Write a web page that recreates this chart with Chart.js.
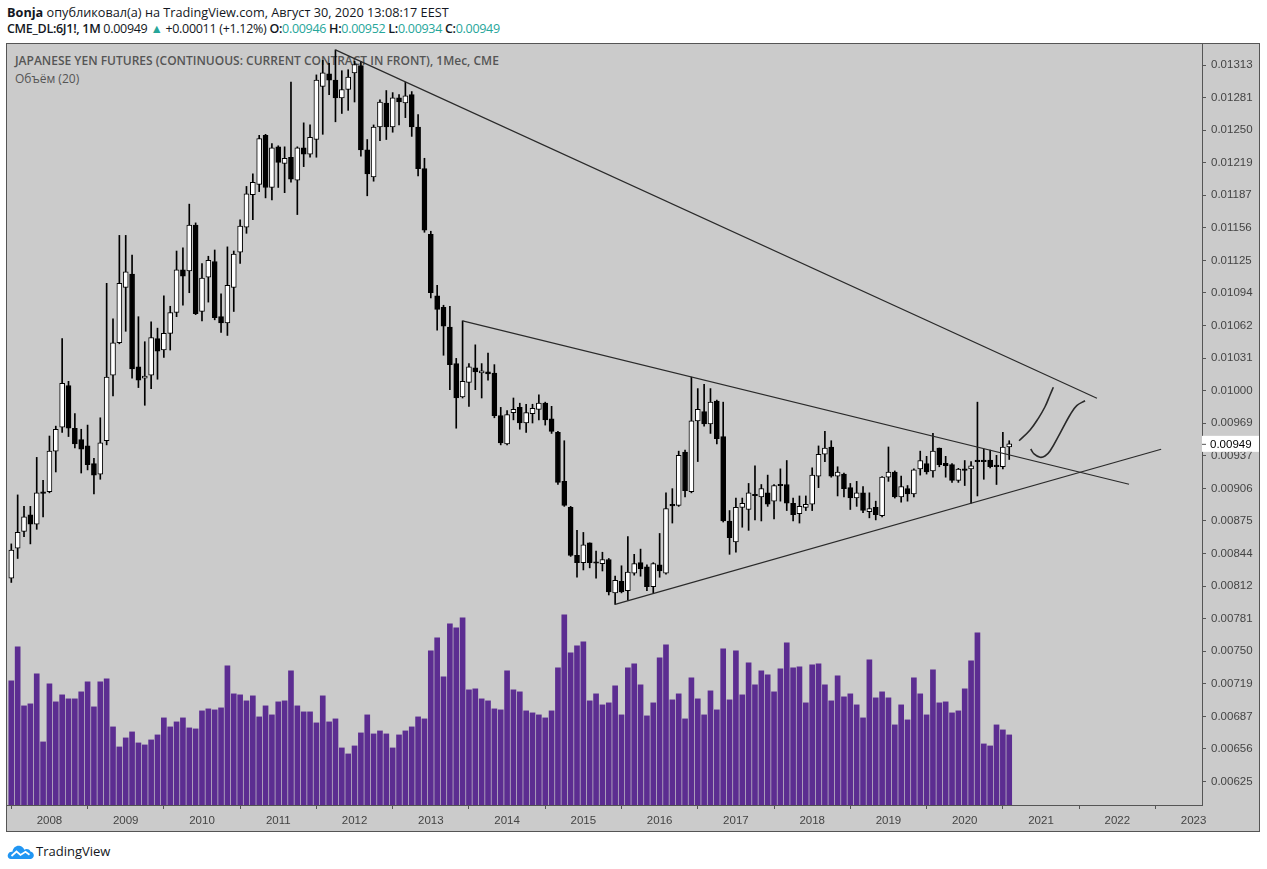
<!DOCTYPE html>
<html>
<head>
<meta charset="utf-8">
<script src="https://cdn.jsdelivr.net/npm/chart.js@4.4.0/dist/chart.umd.min.js"></script>
<style>
  body { margin: 0; width: 1267px; height: 869px; overflow: hidden; background: #fff; font-family: "Open Sans", "Noto Sans", sans-serif; color: #131722; }
  .head { position: absolute; left: 7px; white-space: nowrap; }
  #h1 { top: 3px; font-size: 12.7px; }
  #h2 { top: 20px; font-size: 12.5px; letter-spacing: -0.3px; }
  .b { font-weight: 700; }
  .s { font-weight: 600; }
  .t { color: #26a69a; }
  #box { position: absolute; left: 6px; top: 43px; width: 1254px; height: 789px; box-sizing: border-box; border: 1px solid #555; background: #cbcbcb; }
  #title { position: absolute; left: 8px; top: 8px; font-size: 12px; font-weight: 600; color: #555; white-space: nowrap; }
  #vtitle { position: absolute; left: 8px; top: 26px; font-size: 12px; color: #555; }
  #wrap { position: absolute; left: 0; top: 0; width: 1252px; height: 787px; }
  #logo { position: absolute; left: 7px; top: 842px; font-size: 13px; display: flex; align-items: center; gap: 2px; }
</style>
</head>
<body>
<div class="head" id="h1"><span class="b">Bonja</span> опубликовал(а) на TradingView.com, Август 30, 2020 13:08:17 EEST</div>
<div class="head" id="h2"><span class="s">CME_DL:6J1!, 1M</span> 0.00949 <span class="t">▲</span> +0.00011 (+1.12%) <span class="s">O:</span><span class="t">0.00946</span> <span class="s">H:</span><span class="t">0.00952</span> <span class="s">L:</span><span class="t">0.00934</span> <span class="s">C:</span><span class="t">0.00949</span></div>
<div id="box">
  <div id="title">JAPANESE YEN FUTURES (CONTINUOUS: CURRENT CONTRACT IN FRONT), 1Мес, CME</div>
  <div id="vtitle">Объём (20)</div>
  <div id="wrap"><canvas id="grafico"></canvas></div>
</div>
<div id="logo">
  <svg width="27" height="17" viewBox="0 0 27 17"><path d="M4 16 C1 16 0 13 1.2 11 C2 9 3.8 8.4 5.4 8.8 C6 4.6 9 2.4 12.4 2.8 C15 3.2 16.6 4.8 17.2 6.8 C19.2 5.4 22.4 5.8 23.4 8.4 C25.8 8.6 27.4 11.2 26.6 13.6 C26.1 15.2 24.8 16 23.6 16 Z" fill="#2196f3"/><polyline points="4.5,13 9.5,8.5 13.5,12 18.5,8.8 22.5,11.8" fill="none" stroke="#fff" stroke-width="1.7"/></svg>
  <span>TradingView</span>
</div>
<script>
// primera vela: julio 2007, velas mensuales
const startYear = 2007;
const startMonth = 7;

const opens = [
  0.00820, 0.00849, 0.00865, 0.00881, 0.00872, 0.00903, 0.00903, 0.00942, 0.00965, 0.01005,
  0.00964, 0.00953, 0.00947, 0.00930, 0.00920, 0.00952, 0.01015, 0.01046, 0.01099, 0.01112,
  0.01023, 0.01012, 0.01015, 0.01050, 0.01039, 0.01055, 0.01075, 0.01116, 0.01115, 0.01159,
  0.01076, 0.01109, 0.01124, 0.01071, 0.01065, 0.01099, 0.01133, 0.01157, 0.01188, 0.01198,
  0.01245, 0.01195, 0.01234, 0.01218, 0.01224, 0.01202, 0.01233, 0.01227, 0.01241, 0.01292,
  0.01304, 0.01298, 0.01281, 0.01289, 0.01305, 0.01312, 0.01231, 0.01205, 0.01253, 0.01276,
  0.01253, 0.01281, 0.01276, 0.01284, 0.01253, 0.01213, 0.01150, 0.01091, 0.01080, 0.01061,
  0.01026, 0.00994, 0.01008, 0.01022, 0.01017, 0.01018, 0.01017, 0.00976, 0.00949, 0.00979,
  0.00984, 0.00969, 0.00978, 0.00982, 0.00988, 0.00973, 0.00960, 0.00913, 0.00888, 0.00842,
  0.00835, 0.00854, 0.008353, 0.00834, 0.00838, 0.00806, 0.00817, 0.00808, 0.00825, 0.00835,
  0.00831, 0.00812, 0.00833, 0.00825, 0.008905, 0.00890, 0.00941, 0.00903, 0.00971, 0.00980,
  0.00968, 0.00990, 0.00956, 0.00875, 0.00855, 0.00888, 0.00886, 0.009006, 0.00898, 0.00902,
  0.00894, 0.009102, 0.00910, 0.00892, 0.00882, 0.00888, 0.00891, 0.00918, 0.00939, 0.00946,
  0.00918, 0.00920, 0.00907, 0.00897, 0.00902, 0.00884, 0.00888, 0.00880, 0.00917, 0.00922,
  0.00898, 0.00906, 0.00901, 0.00925, 0.00930, 0.00923, 0.00945, 0.009303, 0.00929, 0.00914,
  0.009246, 0.00925, 0.009335, 0.009335, 0.009335, 0.009287, 0.00927, 0.00946
];
const highs = [
  0.00853, 0.00900, 0.00889, 0.00889, 0.00936, 0.00914, 0.009565, 0.00966, 0.01050, 0.01009,
  0.00978, 0.00963, 0.00967, 0.00935, 0.00974, 0.01103, 0.01069, 0.01149, 0.01149, 0.01130,
  0.01071, 0.01047, 0.01066, 0.01060, 0.01091, 0.01081, 0.01134, 0.01137, 0.01179, 0.01161,
  0.01122, 0.01129, 0.01135, 0.01093, 0.01138, 0.01134, 0.01164, 0.01196, 0.01208, 0.01245,
  0.01246, 0.01237, 0.01235, 0.01234, 0.01296, 0.01234, 0.01257, 0.01255, 0.01303, 0.01317,
  0.01314, 0.01327, 0.01307, 0.01308, 0.01316, 0.01316, 0.01241, 0.01255, 0.01279, 0.01288,
  0.01286, 0.01284, 0.01296, 0.01287, 0.01265, 0.01223, 0.01153, 0.01101, 0.01082, 0.01081,
  0.01031, 0.01067, 0.01026, 0.01044, 0.01026, 0.01036, 0.01025, 0.00984, 0.00981, 0.00993,
  0.00988, 0.00987, 0.00987, 0.00996, 0.00989, 0.00985, 0.00961, 0.00952, 0.00889, 0.00866,
  0.00864, 0.00854, 0.00846, 0.00845, 0.00839, 0.00822, 0.00832, 0.00860, 0.00843, 0.00848,
  0.00833, 0.00835, 0.00863, 0.00902, 0.00906, 0.00942, 0.00943, 0.01013, 0.01002, 0.01006,
  0.01002, 0.00991, 0.00989, 0.00885, 0.00897, 0.00897, 0.00911, 0.00928, 0.00910, 0.00919,
  0.00910, 0.00925, 0.00933, 0.00897, 0.00899, 0.00899, 0.00926, 0.00947, 0.00961, 0.00952,
  0.00927, 0.00921, 0.00911, 0.00913, 0.00908, 0.00902, 0.00894, 0.009176, 0.00946, 0.00923,
  0.00918, 0.00909, 0.00925, 0.00942, 0.00937, 0.00959, 0.00945, 0.00937, 0.00930, 0.009255,
  0.00933, 0.00932, 0.00989, 0.00944, 0.00943, 0.00938, 0.00960, 0.00952
];
const lows = [
  0.00816, 0.00839, 0.00860, 0.00853, 0.00867, 0.00879, 0.00902, 0.00922, 0.00960, 0.00956,
  0.00945, 0.00921, 0.00924, 0.00901, 0.00915, 0.00948, 0.00995, 0.01045, 0.01057, 0.01012,
  0.01003, 0.00986, 0.01002, 0.01011, 0.01032, 0.01039, 0.01071, 0.01082, 0.01094, 0.01073,
  0.01067, 0.01085, 0.01068, 0.01056, 0.01053, 0.01076, 0.01122, 0.01151, 0.01164, 0.01191,
  0.01185, 0.01183, 0.01195, 0.01190, 0.01200, 0.01169, 0.01215, 0.01224, 0.01224, 0.01246,
  0.01284, 0.01258, 0.01266, 0.01269, 0.01277, 0.01225, 0.01187, 0.01201, 0.01240, 0.01241,
  0.01248, 0.01255, 0.01262, 0.01244, 0.01206, 0.01152, 0.01089, 0.01058, 0.01034, 0.01001,
  0.00964, 0.00993, 0.00985, 0.01001, 0.00993, 0.01010, 0.00974, 0.00948, 0.00948, 0.00972,
  0.00963, 0.00960, 0.00969, 0.00972, 0.00967, 0.00959, 0.00910, 0.00889, 0.00841, 0.00821,
  0.00828, 0.00830, 0.00820, 0.00827, 0.00804, 0.00795, 0.00806, 0.00799, 0.00823, 0.00822,
  0.00808, 0.00806, 0.00821, 0.00824, 0.00873, 0.00889, 0.00898, 0.00902, 0.00932, 0.00966,
  0.00959, 0.00949, 0.00874, 0.00843, 0.00845, 0.00869, 0.00866, 0.00876, 0.00875, 0.00889,
  0.00877, 0.00894, 0.00885, 0.00875, 0.00873, 0.00885, 0.00885, 0.00907, 0.00932, 0.00917,
  0.00899, 0.00898, 0.00886, 0.00889, 0.00883, 0.00878, 0.00876, 0.00879, 0.00913, 0.00897,
  0.00893, 0.00894, 0.00898, 0.00919, 0.00920, 0.00917, 0.00927, 0.00917, 0.00912, 0.00912,
  0.00909, 0.00892, 0.00899, 0.00915, 0.00926, 0.00910, 0.00925, 0.00934
];
const closes = [
  0.00847, 0.00864, 0.00879, 0.00872, 0.00902, 0.009015, 0.00942, 0.00963, 0.01007, 0.00964,
  0.00949, 0.00944, 0.00929, 0.00919, 0.00950, 0.01013, 0.01046, 0.01103, 0.01114, 0.01021,
  0.01010, 0.01014, 0.01051, 0.01038, 0.01055, 0.01075, 0.01116, 0.01110, 0.01159, 0.01074,
  0.01108, 0.01125, 0.01070, 0.01065, 0.01101, 0.01131, 0.01158, 0.01189, 0.01200, 0.01242,
  0.01195, 0.01233, 0.01219, 0.01223, 0.01203, 0.01233, 0.01227, 0.01243, 0.01298, 0.01305,
  0.01298, 0.01281, 0.01289, 0.01301, 0.01313, 0.01231, 0.01208, 0.01253, 0.01277, 0.01253,
  0.01281, 0.01277, 0.01283, 0.01253, 0.01213, 0.01154, 0.01094, 0.01078, 0.01062, 0.01025,
  0.00993, 0.01009, 0.01023, 0.01018, 0.01019, 0.01016, 0.00976, 0.00950, 0.00977, 0.00982,
  0.00969, 0.00979, 0.00983, 0.00988, 0.00972, 0.00961, 0.00912, 0.00890, 0.00842, 0.00835,
  0.00852, 0.00835, 0.008344, 0.00838, 0.00807, 0.00818, 0.00807, 0.00826, 0.00834, 0.00829,
  0.00812, 0.00834, 0.00827, 0.00887, 0.008895, 0.00938, 0.00904, 0.00971, 0.00982, 0.00968,
  0.00989, 0.00954, 0.00875, 0.00859, 0.00888, 0.00892, 0.00902, 0.008992, 0.00906, 0.00891,
  0.00909, 0.009088, 0.00892, 0.00881, 0.00889, 0.00891, 0.00919, 0.00939, 0.00945, 0.00918,
  0.00922, 0.00906, 0.00897, 0.00902, 0.00885, 0.00887, 0.00881, 0.00917, 0.00922, 0.00898,
  0.00908, 0.00901, 0.00924, 0.00933, 0.00922, 0.00942, 0.00929, 0.009281, 0.00914, 0.009249,
  0.009236, 0.00928, 0.009319, 0.009319, 0.00927, 0.009271, 0.00946, 0.00949
];
// volumen relativo (escala propia)
const volumes = [
  372, 474, 297, 303, 393, 189, 363, 309, 330, 318, 318, 339, 369, 294, 369, 378, 234, 174, 201, 219,
  186, 180, 195, 210, 261, 234, 249, 261, 231, 228, 282, 288, 285, 291, 417, 333, 330, 312, 327, 264,
  297, 270, 309, 312, 402, 297, 279, 279, 246, 327, 249, 258, 171, 153, 177, 216, 270, 213, 222, 213,
  171, 210, 222, 234, 264, 258, 462, 501, 384, 543, 531, 561, 345, 348, 318, 312, 288, 285, 402, 345,
  339, 282, 276, 270, 261, 282, 411, 570, 456, 477, 489, 312, 333, 300, 306, 357, 270, 411, 423, 360,
  267, 306, 441, 480, 315, 333, 258, 381, 318, 270, 342, 285, 468, 315, 462, 330, 426, 360, 402, 390,
  339, 408, 486, 411, 414, 306, 420, 423, 360, 312, 387, 324, 333, 300, 261, 435, 321, 339, 321, 240,
  300, 255, 381, 333, 270, 405, 306, 309, 276, 282, 348, 432, 516, 183, 177, 240, 225, 210
];

const yearLabels = ['2008', '2009', '2010', '2011', '2012', '2013', '2014', '2015',
  '2016', '2017', '2018', '2019', '2020', '2021', '2022', '2023'];
const priceTicks = [0.013125, 0.0128125, 0.0125, 0.0121875, 0.011875, 0.0115625, 0.01125, 0.0109375,
  0.010625, 0.0103125, 0.01, 0.0096875, 0.009375, 0.0090625, 0.00875, 0.0084375, 0.008125, 0.0078125,
  0.0075, 0.0071875, 0.006875, 0.0065625, 0.00625];
const priceTickLabels = ['0.01313', '0.01281', '0.01250', '0.01219', '0.01187', '0.01156', '0.01125', '0.01094',
  '0.01062', '0.01031', '0.01000', '0.00969', '0.00937', '0.00906', '0.00875', '0.00844', '0.00812', '0.00781',
  '0.00750', '0.00719', '0.00687', '0.00656', '0.00625'];
const lastPrice = 0.00949;

// lineas dibujadas: [indice de mes, precio]
const lineaSuperior = [[51, 0.01327], [170.8, 0.009927]];
const lineaMedia = [[71, 0.01067], [175.85, 0.009102]];
const lineaSoporte = [[95, 0.00795], [180.9, 0.009438]];
const trazoSubida = [[158.55, 0.00952], [160.28, 0.009623], [161.58, 0.009735], [162.63, 0.009846], [163.42, 0.009959], [163.94, 0.010033]];
const trazoGancho = [[160.38, 0.00944], [160.9, 0.009393], [161.85, 0.009361], [162.63, 0.009373], [163.42, 0.009421],
  [164.99, 0.009591], [166.56, 0.009767], [167.62, 0.009856], [168.93, 0.009904]];

const pts = arr => arr.map(p => ({x: p[0], y: p[1]}));
const idx = opens.map((_, i) => i);
const subida = idx.map(i => closes[i] >= opens[i]);

function linea(datos, curva) {
    return {
        type: 'line', data: pts(datos), borderColor: '#2a2a2a', borderWidth: curva ? 1.6 : 1.2,
        pointRadius: 0, tension: curva ? 0.4 : 0, order: 0, yAxisID: 'y'
    };
}

// sin relleno extra alrededor del area del grafico
const sinPadding = s => { s.paddingTop = 0; s.paddingBottom = 0; s.paddingLeft = 0; s.paddingRight = 0; };

const etiquetaPrecio = {
    id: 'etiquetaPrecio',
    afterDraw(chart) {
        const c = chart.ctx, a = chart.chartArea;
        const y = chart.scales.y.getPixelForValue(lastPrice);
        c.save();
        c.fillStyle = '#fff';
        c.fillRect(a.right, y - 8, 57, 16);
        c.strokeStyle = '#555';
        c.beginPath(); c.moveTo(a.right, y + 0.5); c.lineTo(a.right + 4, y + 0.5); c.stroke();
        c.fillStyle = '#000';
        c.font = '11.5px "Liberation Sans", Arial, sans-serif';
        c.textBaseline = 'middle';
        c.fillText(lastPrice.toFixed(5), a.right + 8, y + 0.5);
        c.restore();
    }
};

const ctx = document.getElementById('grafico').getContext('2d');
new Chart(ctx, {
    type: 'bar',
    data: {
        datasets: [
            linea(lineaSuperior, false),
            linea(lineaMedia, false),
            linea(lineaSoporte, false),
            linea(trazoSubida, true),
            linea(trazoGancho, true),
            {
                data: idx.map(i => ({x: i, y: [opens[i], closes[i]]})),
                backgroundColor: subida.map(u => u ? '#ffffff' : '#000000'),
                borderColor: '#000', borderWidth: 1, borderSkipped: false,
                barThickness: 5, minBarLength: 1.5, grouped: false, order: 1, yAxisID: 'y'
            },
            {
                data: idx.map(i => ({x: i, y: [lows[i], highs[i]]})),
                backgroundColor: '#000', barThickness: 1, grouped: false, order: 2, yAxisID: 'y'
            },
            {
                data: idx.map(i => ({x: i, y: volumes[i]})),
                backgroundColor: '#5c2d91', barThickness: 5, grouped: false, order: 3, yAxisID: 'yv'
            }
        ]
    },
    options: {
        responsive: true,
        maintainAspectRatio: false,
        animation: false,
        layout: {padding: 0},
        plugins: {legend: {display: false}, tooltip: {enabled: false}},
        scales: {
            x: {
                type: 'linear', offset: false, min: -0.677, max: 187.33,
                afterBuildTicks: s => { s.ticks = yearLabels.map((_, k) => ({value: (2008 + k - startYear) * 12 + 1 - startMonth})); },
                afterFit: s => { s.height = 26; sinPadding(s); },
                ticks: {autoSkip: false, maxRotation: 0, padding: 5, color: '#444',
                    font: {family: '"Liberation Sans", Arial, sans-serif', size: 11.5},
                    callback: (v, i) => yearLabels[i]},
                grid: {drawOnChartArea: false, drawTicks: true, tickLength: 4, color: '#555'},
                border: {display: true, color: '#555'}
            },
            y: {
                position: 'right', min: 0.0060247, max: 0.0133265,
                afterBuildTicks: s => { s.ticks = priceTicks.map(v => ({value: v})); },
                afterFit: s => { s.width = 57; sinPadding(s); },
                ticks: {padding: 5, color: '#444',
                    font: {family: '"Liberation Sans", Arial, sans-serif', size: 11.5},
                    callback: (v, i) => priceTickLabels[i]},
                grid: {drawOnChartArea: false, drawTicks: true, tickLength: 4, color: '#555'},
                border: {display: true, color: '#555'}
            },
            yv: {display: false, min: 0, max: 2280}
        }
    },
    plugins: [etiquetaPrecio]
});
</script>
</body>
</html>
